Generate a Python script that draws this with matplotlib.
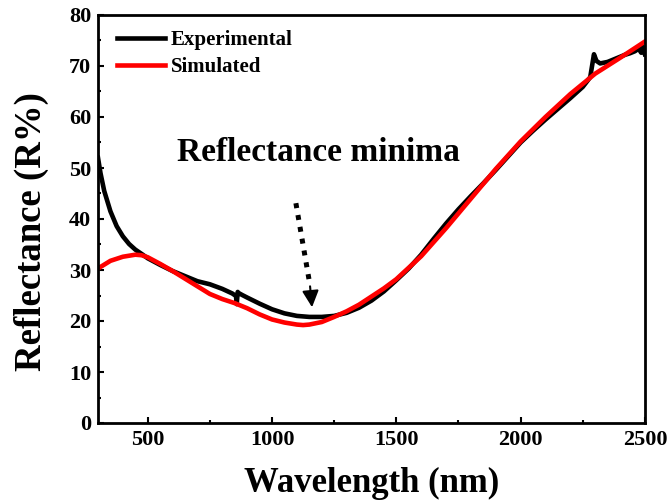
import matplotlib
matplotlib.use('Agg')
import matplotlib.pyplot as plt
from matplotlib.ticker import MultipleLocator

# experimental reflectance spectrum (black)
exp_wl = [300, 310, 325, 350, 375, 400, 425, 450, 480, 500, 550, 600, 650, 700,
          750, 800, 840, 855, 858, 862, 865, 880, 900, 950, 1000, 1050, 1100,
          1150, 1200, 1250, 1300, 1350, 1400, 1450, 1500, 1550, 1600, 1650,
          1700, 1750, 1800, 1850, 1900, 1950, 2000, 2050, 2100, 2150, 2200,
          2250, 2280, 2295, 2305, 2320, 2350, 2380, 2400, 2420, 2440, 2460,
          2475, 2485, 2490, 2495, 2500]
exp_r = [52, 49, 45.5, 41.5, 38.6, 36.6, 35.1, 34.0, 33.0, 32.3, 31.0, 29.8,
         28.8, 27.8, 27.2, 26.3, 25.4, 24.9, 23.3, 25.7, 25.5, 25.1, 24.6, 23.4,
         22.3, 21.5, 21.0, 20.8, 20.8, 21.0, 21.6, 22.6, 24.0, 25.8, 28.0, 30.3,
         33.0, 36.1, 39.1, 41.9, 44.5, 47.0, 49.6, 52.3, 55.0, 57.3, 59.5, 61.6,
         63.7, 65.9, 67.8, 72.3, 71.0, 70.5, 70.8, 71.4, 71.8, 72.2, 72.5, 72.9,
         73.4, 72.6, 74.0, 73.2, 72.3]

# simulated spectrum (red)
sim_wl = [300, 350, 400, 450, 475, 500, 550, 600, 650, 700, 750, 800, 850, 900,
          950, 1000, 1050, 1100, 1125, 1150, 1200, 1250, 1300, 1350, 1400, 1450,
          1500, 1600, 1700, 1800, 1900, 2000, 2100, 2200, 2300, 2400, 2500]
sim_r = [30.3, 31.8, 32.6, 33.0, 32.9, 32.5, 31.2, 29.8, 28.3, 26.8, 25.3, 24.3,
         23.5, 22.5, 21.3, 20.3, 19.7, 19.3, 19.2, 19.3, 19.8, 20.8, 21.9, 23.2,
         24.8, 26.4, 28.2, 32.7, 38.2, 44.0, 49.8, 55.2, 60.0, 64.5, 68.5, 71.6,
         74.8]

plt.rcParams['font.family'] = ['Liberation Serif', 'DejaVu Serif']
plt.rcParams['font.weight'] = 'bold'

fig = plt.figure(figsize=(6.69, 5.0), dpi=100)
ax = fig.add_axes([0.1465, 0.154, 0.8175, 0.816])

ax.plot(exp_wl, exp_r, color='black', lw=3.3, label='Experimental', solid_joinstyle='round')
ax.plot(sim_wl, sim_r, color='#ff0000', lw=3.3, label='Simulated', solid_joinstyle='round')

# dotted arrow marking the minimum
ax.plot([1096, 1150], [43.1, 27.8], color='black', lw=3.6, linestyle=(0, (1, 1.4)),
        dash_capstyle='butt')
ax.annotate('', xy=(1161, 22.7), xytext=(1153, 26.8),
            arrowprops=dict(arrowstyle='-|>,head_length=1.0,head_width=0.5',
                            color='black', lw=1.5, shrinkA=0, shrinkB=0))
ax.text(1185, 53.1, 'Reflectance minima', fontsize=24, fontweight='bold',
        ha='center', va='center')

ax.set_xlim(300, 2500)
ax.set_ylim(0, 80)
ax.xaxis.set_major_locator(MultipleLocator(500))
ax.xaxis.set_minor_locator(MultipleLocator(250))
ax.yaxis.set_major_locator(MultipleLocator(10))
ax.yaxis.set_minor_locator(MultipleLocator(5))
ax.tick_params(which='both', direction='in', width=1.5, labelsize=16)
ax.tick_params(which='major', length=4, pad=5)
ax.tick_params(which='minor', length=2.5)
for lab in ax.get_xticklabels() + ax.get_yticklabels():
    lab.set_fontweight('bold')
for sp in ax.spines.values():
    sp.set_linewidth(2)

ax.set_xlabel('Wavelength (nm)', fontsize=25, fontweight='bold', labelpad=12)
ax.set_ylabel('Reflectance (R%)', fontsize=26.5, fontweight='bold')
ax.yaxis.set_label_coords(-0.09, 0.47)

ax.legend(loc='upper left', bbox_to_anchor=(0.019, 0.984), frameon=False,
          handlelength=2.3, handletextpad=0.3, borderaxespad=0, labelspacing=0.35,
          prop={'weight': 'bold', 'size': 15})

fig.savefig('out.png', dpi=100)
